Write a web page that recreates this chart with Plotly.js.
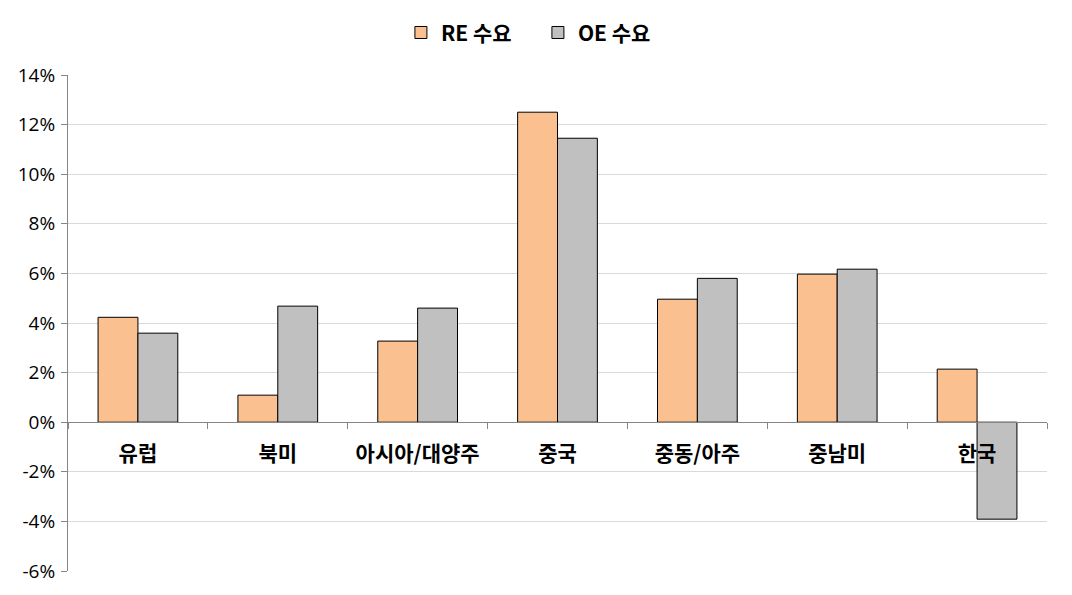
<!DOCTYPE html>
<html>
<head>
<meta charset="utf-8">
<script src="https://cdn.plot.ly/plotly-3.0.1.min.js"></script>
<style>html,body{margin:0;padding:0;background:#fff;}#chart{width:1072px;height:595px;}</style>
</head>
<body>
<div id="chart"></div>
<script>
const categories = ['유럽', '북미', '아시아/대양주', '중국', '중동/아주', '중남미', '한국'];
const reDemand = [4.23, 1.09, 3.27, 12.5, 4.96, 5.97, 2.14];
const oeDemand = [3.59, 4.68, 4.6, 11.45, 5.8, 6.17, -3.91];
const seriesNames = ['RE 수요', 'OE 수요'];
const yTicks = [-6, -4, -2, 0, 2, 4, 6, 8, 10, 12, 14];
const yTickLabels = yTicks.map(v => v + '%');

const yMin = -6, yMax = 14;
const kfont = '"Noto Sans CJK KR", "Noto Sans", sans-serif';

const traces = [
  {type: 'bar', name: seriesNames[0], x: categories, y: reDemand, xaxis: 'x', yaxis: 'y',
   marker: {color: '#FAC090', line: {color: '#000000', width: 1}}},
  {type: 'bar', name: seriesNames[1], x: categories, y: oeDemand, xaxis: 'x', yaxis: 'y',
   marker: {color: '#C0C0C0', line: {color: '#000000', width: 1}}}
];

const layout = {
  width: 1072, height: 595,
  margin: {l: 68, r: 25, t: 75, b: 24},
  paper_bgcolor: '#ffffff', plot_bgcolor: '#ffffff',
  barmode: 'group', bargap: 0.43, bargroupgap: 0,
  showlegend: true,
  legend: {orientation: 'h', x: 0.48, xanchor: 'center', y: 1.085, yanchor: 'middle',
    font: {family: kfont, size: 21, color: '#000', weight: 'bold'}, itemwidth: 30,
    entrywidth: 92},
  xaxis: {
    type: 'category', anchor: 'free', position: (0 - yMin) / (yMax - yMin),
    showline: true, linecolor: '#868686', linewidth: 1,
    ticks: 'outside', tickson: 'boundaries', ticklen: 6, tickcolor: '#868686',
    showgrid: false, zeroline: false,
    tickfont: {family: kfont, size: 21, color: '#000', weight: 'bold'},
    ticklabelstandoff: 13
  },
  yaxis: {
    range: [yMin, yMax], tickvals: yTicks, ticktext: yTickLabels,
    showline: true, linecolor: '#868686', linewidth: 1,
    ticks: 'outside', ticklen: 6, tickcolor: '#868686',
    showgrid: true, gridcolor: '#d9d9d9', gridwidth: 1, zeroline: false,
    ticklabelstandoff: 2,
    tickfont: {family: '"Open Sans", Lato, sans-serif', size: 19, color: '#000'}
  }
};

Plotly.newPlot('chart', traces, layout, {displayModeBar: false, staticPlot: true});
</script>
</body>
</html>
